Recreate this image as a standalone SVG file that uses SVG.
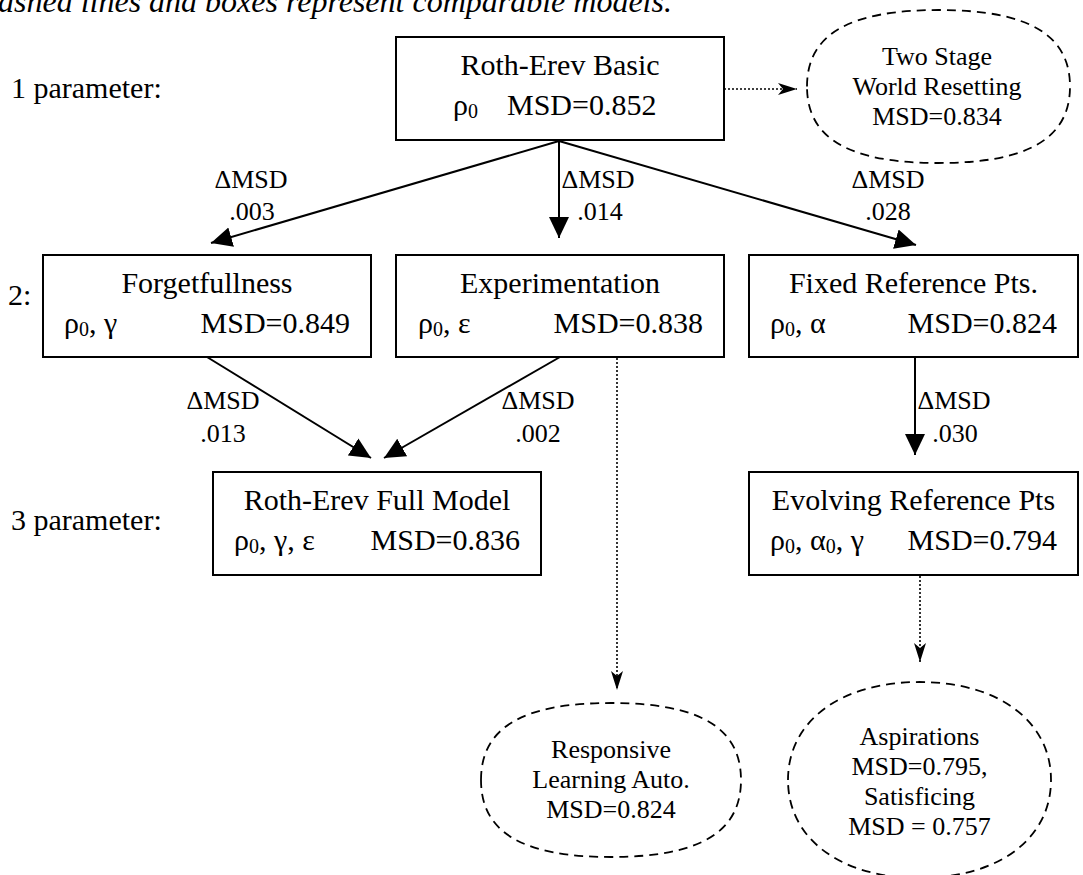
<svg xmlns="http://www.w3.org/2000/svg" width="1083" height="875" viewBox="0 0 1083 875">
<defs>
<style>
text{font-family:"Liberation Serif","Times New Roman",serif;fill:#000}
.t{font-size:30px}
.c{text-anchor:middle}
.e{text-anchor:end}
.lab{font-size:26px;text-anchor:middle}
.el{font-size:26px;text-anchor:middle}
.ttl{font-size:32px;font-style:italic}
.box{fill:#fff;stroke:#000;stroke-width:2}
.dash{fill:#fff;stroke:#000;stroke-width:1.8;stroke-dasharray:9 6}
.sol{fill:none;stroke:#000;stroke-width:2}
.dot{fill:none;stroke:#000;stroke-width:1.6;stroke-dasharray:2 2}
.sub{font-size:20px}
</style>
<marker id="ah" markerUnits="userSpaceOnUse" markerWidth="22" markerHeight="22" viewBox="0 0 22 22" refX="21" refY="11" orient="auto">
<path d="M0,1 L21,11 L0,21 z" fill="#000"/>
</marker>
<marker id="dh" markerUnits="userSpaceOnUse" markerWidth="20" markerHeight="14" viewBox="0 0 20 14" refX="19" refY="7" orient="auto">
<path d="M0,1 L19,7 L0,13 L5,7 z" fill="#000"/>
</marker>
</defs>
<rect width="1083" height="875" fill="#fff"/>
<text class="ttl" x="-2" y="12">ashed lines and boxes represent comparable models.</text>
<text class="t" x="11" y="98">1 parameter:</text>
<text class="t" x="8" y="305">2:</text>
<text class="t" x="11" y="530">3 parameter:</text>

<g id="connectors">
<path class="sol" d="M559,141 L211,243" marker-end="url(#ah)"/>
<path class="sol" d="M559,141 L559,238" marker-end="url(#ah)"/>
<path class="sol" d="M559,141 L916,245" marker-end="url(#ah)"/>
<path class="sol" d="M207,357 L371,458" marker-end="url(#ah)"/>
<path class="sol" d="M560,357 L384,458" marker-end="url(#ah)"/>
<path class="sol" d="M915,357 L915,455" marker-end="url(#ah)"/>
<path class="dot" d="M724,89 L797,89" marker-end="url(#dh)"/>
<path class="dot" d="M617,358 L617,690" marker-end="url(#dh)"/>
<path class="dot" d="M920,576 L920,662" marker-end="url(#dh)"/>
<text class="lab" x="251" y="188">ΔMSD</text>
<text class="lab" x="252" y="220">.003</text>
<text class="lab" x="598" y="188">ΔMSD</text>
<text class="lab" x="600" y="220">.014</text>
<text class="lab" x="888" y="188">ΔMSD</text>
<text class="lab" x="888" y="220">.028</text>
<text class="lab" x="223" y="409">ΔMSD</text>
<text class="lab" x="223" y="442">.013</text>
<text class="lab" x="538" y="409">ΔMSD</text>
<text class="lab" x="538" y="442">.002</text>
<text class="lab" x="954" y="409">ΔMSD</text>
<text class="lab" x="955" y="442">.030</text>
</g>

<g id="n-basic">
<rect class="box" x="396" y="37" width="328" height="103"/>
<text class="t c" x="560" y="75">Roth-Erev Basic</text>
<text class="t" x="453" y="115">ρ<tspan class="sub" dy="3">0</tspan><tspan dy="-3" x="507">MSD=0.852</tspan></text>
</g>

<g id="n-twostage">
<path class="dash" d="M807,86.5 C807,34.5 849.1,10 938.5,10 C1027.9,10 1070,34.5 1070,86.5 C1070,138.5 1027.9,163 938.5,163 C849.1,163 807,138.5 807,86.5 Z"/>
<text class="el" x="937" y="65">Two Stage</text>
<text class="el" x="937" y="95">World Resetting</text>
<text class="el" x="937" y="125">MSD=0.834</text>
</g>

<g id="n-forget">
<rect class="box" x="43" y="255" width="328" height="102"/>
<text class="t c" x="207" y="293">Forgetfullness</text>
<text class="t" x="64" y="333">ρ<tspan class="sub" dy="3">0</tspan><tspan dy="-3">, γ</tspan></text>
<text class="t e" x="350" y="333">MSD=0.849</text>
</g>

<g id="n-exp">
<rect class="box" x="396" y="255" width="328" height="102"/>
<text class="t c" x="560" y="293">Experimentation</text>
<text class="t" x="418" y="333">ρ<tspan class="sub" dy="3">0</tspan><tspan dy="-3">, ε</tspan></text>
<text class="t e" x="703" y="333">MSD=0.838</text>
</g>

<g id="n-fixed">
<rect class="box" x="749" y="255" width="329" height="102"/>
<text class="t c" x="913.5" y="293">Fixed Reference Pts.</text>
<text class="t" x="770" y="333">ρ<tspan class="sub" dy="3">0</tspan><tspan dy="-3">, α</tspan></text>
<text class="t e" x="1057" y="333">MSD=0.824</text>
</g>

<g id="n-full">
<rect class="box" x="213" y="472" width="328" height="103"/>
<text class="t c" x="377" y="510">Roth-Erev Full Model</text>
<text class="t" x="234" y="550">ρ<tspan class="sub" dy="3">0</tspan><tspan dy="-3">, γ, ε</tspan></text>
<text class="t e" x="520" y="550">MSD=0.836</text>
</g>

<g id="n-evolving">
<rect class="box" x="749" y="472" width="329" height="103"/>
<text class="t c" x="913.5" y="510">Evolving Reference Pts</text>
<text class="t" x="770" y="550">ρ<tspan class="sub" dy="3">0</tspan><tspan dy="-3">, α</tspan><tspan class="sub" dy="3">0</tspan><tspan dy="-3">, γ</tspan></text>
<text class="t e" x="1057" y="550">MSD=0.794</text>
</g>

<g id="n-responsive">
<path class="dash" d="M481,780 C481,727.6 522.6,703 611,703 C699.4,703 741,727.6 741,780 C741,832.4 699.4,857 611,857 C522.6,857 481,832.4 481,780 Z"/>
<text class="el" x="611" y="758">Responsive</text>
<text class="el" x="611" y="788">Learning Auto.</text>
<text class="el" x="611" y="818">MSD=0.824</text>
</g>

<g id="n-aspirations">
<path class="dash" d="M788,780 C788,721.2 840.6,682 919.5,682 C998.4,682 1051,721.2 1051,780 C1051,838.8 998.4,878 919.5,878 C840.6,878 788,838.8 788,780 Z"/>
<text class="el" x="919.5" y="745">Aspirations</text>
<text class="el" x="919.5" y="775">MSD=0.795,</text>
<text class="el" x="919.5" y="805">Satisficing</text>
<text class="el" x="919.5" y="835">MSD = 0.757</text>
</g>
</svg>
